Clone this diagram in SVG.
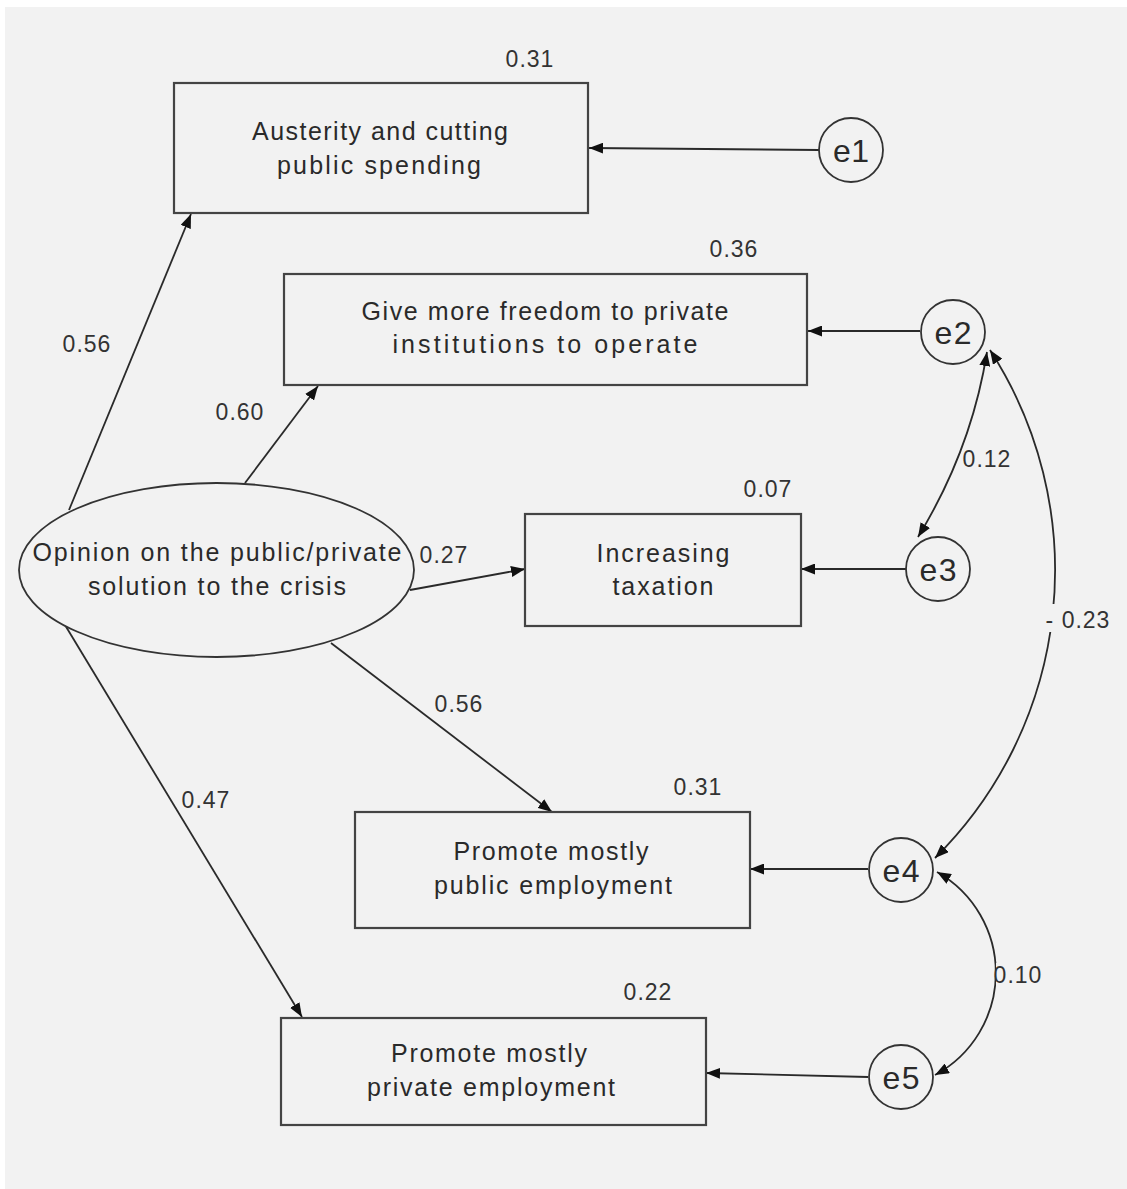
<svg xmlns="http://www.w3.org/2000/svg" width="1127" height="1189" viewBox="0 0 1127 1189">
<defs>
<style>
.bg{fill:#f2f2f2}
.box{fill:#f2f2f2;stroke:#444;stroke-width:2.2}
.lat{fill:#f2f2f2;stroke:#333;stroke-width:1.8}
.t{font-family:"Liberation Sans",Arial,sans-serif;font-size:25px;fill:#2a2a2a;text-anchor:middle}
.e{font-family:"Liberation Sans",Arial,sans-serif;font-size:32px;fill:#2a2a2a;text-anchor:middle}
.lbl{font-family:"Liberation Sans",Arial,sans-serif;font-size:23px;fill:#333;text-anchor:middle;letter-spacing:1px}
.c{fill:none;stroke:#2a2a2a;stroke-width:1.8}
</style>
<marker id="ah" markerUnits="userSpaceOnUse" markerWidth="15" markerHeight="11" refX="14" refY="5.5" orient="auto-start-reverse">
<path d="M0,0 L14,5.5 L0,11 z" fill="#111"/>
</marker>
</defs>
<rect width="1127" height="1189" fill="#ffffff"/>
<rect class="bg" x="5" y="7" width="1122" height="1182"/>

<g id="connectors">
<line class="c" x1="69" y1="510" x2="191" y2="214" marker-end="url(#ah)"/>
<line class="c" x1="245" y1="483" x2="318" y2="386" marker-end="url(#ah)"/>
<line class="c" x1="410" y1="590" x2="525" y2="569" marker-end="url(#ah)"/>
<line class="c" x1="331" y1="643" x2="552" y2="812" marker-end="url(#ah)"/>
<line class="c" x1="65" y1="625" x2="302" y2="1017" marker-end="url(#ah)"/>
<line class="c" x1="819" y1="150" x2="589" y2="148" marker-end="url(#ah)"/>
<line class="c" x1="920" y1="331" x2="808" y2="331" marker-end="url(#ah)"/>
<line class="c" x1="906" y1="569" x2="801" y2="569" marker-end="url(#ah)"/>
<line class="c" x1="868" y1="869" x2="750" y2="869" marker-end="url(#ah)"/>
<line class="c" x1="868" y1="1077" x2="706" y2="1073" marker-end="url(#ah)"/>
<path class="c" d="M987,352 Q971.5,449.5 918,537" marker-start="url(#ah)" marker-end="url(#ah)"/>
<path class="c" d="M990,350 A405,405 0 0 1 935,858" marker-start="url(#ah)" marker-end="url(#ah)"/>
<path class="c" d="M937,872 A116,116 0 0 1 935,1075" marker-start="url(#ah)" marker-end="url(#ah)"/>
<rect class="bg" x="1044" y="604" width="70" height="28"/>
<text class="lbl" x="1078" y="628">- 0.23</text>
<rect class="bg" x="996" y="963" width="46" height="24"/>
<text class="lbl" x="1018" y="983">0.10</text>
<text class="lbl" x="987" y="467">0.12</text>
<text class="lbl" x="87" y="352">0.56</text>
<text class="lbl" x="240" y="420">0.60</text>
<text class="lbl" x="444" y="563">0.27</text>
<text class="lbl" x="459" y="712">0.56</text>
<text class="lbl" x="206" y="808">0.47</text>
</g>

<g id="latent">
<ellipse class="lat" cx="216.5" cy="570" rx="197.5" ry="87"/>
<text class="t" x="217" y="561" textLength="369" lengthAdjust="spacing">Opinion on the public/private</text>
<text class="t" x="217" y="595" textLength="258" lengthAdjust="spacing">solution to the crisis</text>
</g>

<g id="box1">
<rect class="box" x="174" y="83" width="414" height="130"/>
<text class="t" x="380" y="140" textLength="256" lengthAdjust="spacing">Austerity and cutting</text>
<text class="t" x="379" y="174" textLength="204" lengthAdjust="spacing">public spending</text>
<text class="lbl" x="530" y="67">0.31</text>
</g>

<g id="box2">
<rect class="box" x="284" y="274" width="523" height="111"/>
<text class="t" x="545" y="320" textLength="367" lengthAdjust="spacing">Give more freedom to private</text>
<text class="t" x="545" y="353" textLength="305" lengthAdjust="spacing">institutions to operate</text>
<text class="lbl" x="734" y="257">0.36</text>
</g>

<g id="box3">
<rect class="box" x="525" y="514" width="276" height="112"/>
<text class="t" x="663" y="562" textLength="133" lengthAdjust="spacing">Increasing</text>
<text class="t" x="663" y="595" textLength="101" lengthAdjust="spacing">taxation</text>
<text class="lbl" x="768" y="497">0.07</text>
</g>

<g id="box4">
<rect class="box" x="355" y="812" width="395" height="116"/>
<text class="t" x="551" y="860" textLength="195" lengthAdjust="spacing">Promote mostly</text>
<text class="t" x="553" y="894" textLength="238" lengthAdjust="spacing">public employment</text>
<text class="lbl" x="698" y="795">0.31</text>
</g>

<g id="box5">
<rect class="box" x="281" y="1018" width="425" height="107"/>
<text class="t" x="489" y="1062" textLength="196" lengthAdjust="spacing">Promote mostly</text>
<text class="t" x="491" y="1096" textLength="248" lengthAdjust="spacing">private employment</text>
<text class="lbl" x="648" y="1000">0.22</text>
</g>

<g id="e1">
<circle class="lat" cx="851" cy="150" r="32"/>
<text class="e" x="851" y="162" textLength="36" lengthAdjust="spacing">e1</text>
</g>
<g id="e2">
<circle class="lat" cx="953" cy="332" r="32"/>
<text class="e" x="953" y="344" textLength="37" lengthAdjust="spacing">e2</text>
</g>
<g id="e3">
<circle class="lat" cx="938" cy="569" r="32"/>
<text class="e" x="938" y="581" textLength="37" lengthAdjust="spacing">e3</text>
</g>
<g id="e4">
<circle class="lat" cx="901" cy="870" r="32"/>
<text class="e" x="901" y="882" textLength="37" lengthAdjust="spacing">e4</text>
</g>
<g id="e5">
<circle class="lat" cx="901" cy="1077" r="32"/>
<text class="e" x="901" y="1089" textLength="37" lengthAdjust="spacing">e5</text>
</g>
</svg>
